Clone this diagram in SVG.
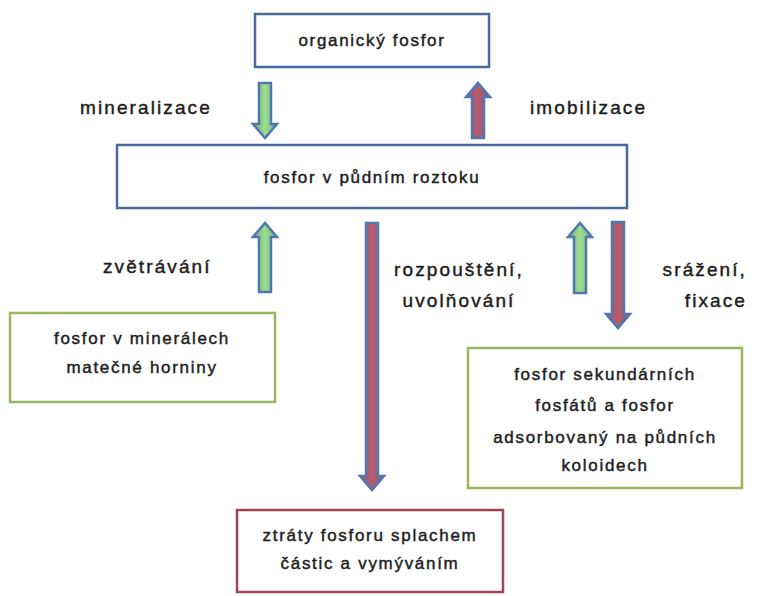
<svg xmlns="http://www.w3.org/2000/svg" width="766" height="596" viewBox="0 0 766 596">
<style>
  .t { font-family: "Liberation Sans", Arial, sans-serif; font-size: 17px; fill: #1e1e1e; stroke: #1e1e1e; stroke-width: 0.45; text-anchor: middle; letter-spacing: 1.7px; }
  .lbl { font-family: "Liberation Sans", Arial, sans-serif; font-size: 19px; fill: #1e1e1e; stroke: #1e1e1e; stroke-width: 0.45; letter-spacing: 2.1px; }
  .bx-blue { fill: #ffffff; stroke: #4a6a9c; stroke-width: 2.5; }
  .bx-green { fill: #ffffff; stroke: #9bb55a; stroke-width: 2.5; }
  .bx-red { fill: #ffffff; stroke: #a2435a; stroke-width: 2.5; }
  .ag { fill: url(#gG); stroke: #4f78b0; stroke-width: 2.5; stroke-linejoin: miter; }
  .ar { fill: url(#gR); stroke: #4f78b0; stroke-width: 2.5; stroke-linejoin: miter; }
</style>
<defs>
  <linearGradient id="gG" x1="0" y1="0" x2="1" y2="0">
    <stop offset="0" stop-color="#6fae8a"/>
    <stop offset="0.5" stop-color="#9ede8c"/>
    <stop offset="1" stop-color="#6fae8a"/>
  </linearGradient>
  <linearGradient id="gR" x1="0" y1="0" x2="1" y2="0">
    <stop offset="0" stop-color="#8a5a80"/>
    <stop offset="0.5" stop-color="#b85c6c"/>
    <stop offset="1" stop-color="#8a5a80"/>
  </linearGradient>
</defs>
<rect width="766" height="596" fill="#ffffff"/>

<g id="node-organicky">
  <rect class="bx-blue" x="255" y="14" width="234" height="53"/>
  <text class="t" x="372" y="46">organický fosfor</text>
</g>
<g id="node-roztok">
  <rect class="bx-blue" x="117" y="145" width="510" height="63"/>
  <text class="t" x="372" y="183">fosfor v půdním roztoku</text>
</g>
<g id="node-mineraly">
  <rect class="bx-green" x="10" y="313" width="265" height="89"/>
  <text class="t" x="142" y="344">fosfor v minerálech</text>
  <text class="t" x="142" y="373">matečné horniny</text>
</g>
<g id="node-sekundarni">
  <rect class="bx-green" x="468" y="348" width="274" height="140"/>
  <text class="t" x="605" y="380">fosfor sekundárních</text>
  <text class="t" x="605" y="411">fosfátů a fosfor</text>
  <text class="t" x="605" y="443">adsorbovaný na půdních</text>
  <text class="t" x="605" y="471">koloidech</text>
</g>
<g id="node-ztraty">
  <rect class="bx-red" x="237" y="510" width="266" height="82"/>
  <text class="t" x="370" y="541">ztráty fosforu splachem</text>
  <text class="t" x="370" y="569">částic a vymýváním</text>
</g>

<g id="connectors">
  <polygon class="ag" points="259,83 271,83 271,124 277,124 265,138 253,124 259,124"/>
  <polygon class="ar" points="472,138 484,138 484,97 490,97 478,83 466,97 472,97"/>
  <polygon class="ag" points="259,292 271,292 271,237 277,237 265,223 253,237 259,237"/>
  <polygon class="ar" points="366,223 378,223 378,476 384,476 372,490 360,476 366,476"/>
  <polygon class="ag" points="574,293 586,293 586,237 592,237 580,223 568,237 574,237"/>
  <polygon class="ar" points="612,222 624,222 624,314 630,314 618,328 606,314 612,314"/>
</g>

<g id="labels">
  <text class="lbl" x="80" y="114">mineralizace</text>
  <text class="lbl" x="530" y="114">imobilizace</text>
  <text class="lbl" x="103" y="273">zvětrávání</text>
  <text class="lbl" x="459" y="276" text-anchor="middle">rozpouštění,</text>
  <text class="lbl" x="459" y="307" text-anchor="middle">uvolňování</text>
  <text class="lbl" x="747" y="276" text-anchor="end">srážení,</text>
  <text class="lbl" x="747" y="307" text-anchor="end">fixace</text>
</g>
</svg>
